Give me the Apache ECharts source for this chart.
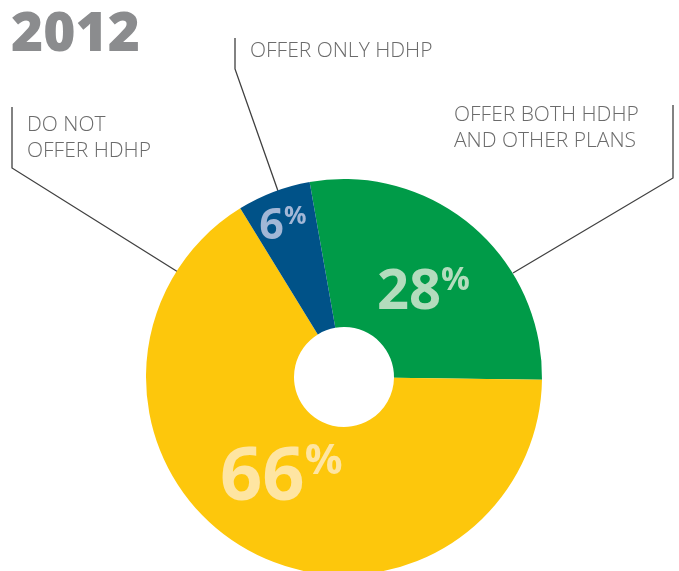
<!DOCTYPE html>
<html>
<head>
<meta charset="utf-8">
<script src="https://cdn.jsdelivr.net/npm/echarts@6/dist/echarts.min.js"></script>
<style>
html,body{margin:0;padding:0;background:#fff;}
#c{width:679px;height:571px;}
</style>
</head>
<body>
<div id="c"></div>
<script>
var title = '2012';
var categories = ['OFFER BOTH HDHP\nAND OTHER PLANS', 'DO NOT\nOFFER HDHP', 'OFFER ONLY HDHP'];
var values = [28, 66, 6];
var colors = ['#009b48', '#fdc70c', '#005288'];
var labelColors = ['#b3dcbd', '#fee5a2', '#a2b7d6'];
var numSizes = [56, 74, 43];
var labelOffsets = [[-3, 13], [0, -9], [-16, -32]];

var FONT = '"Open Sans", "Noto Sans", sans-serif';

var data = values.map(function (v, i) {
  return {
    value: v,
    name: categories[i],
    itemStyle: { color: colors[i] },
    label: {
      offset: labelOffsets[i],
      formatter: '{n|' + v + '}{p|%}',
      rich: {
        n: { fontSize: numSizes[i], fontWeight: 'bold', fontFamily: FONT, color: labelColors[i], lineHeight: numSizes[i] },
        p: { fontSize: Math.round(numSizes[i] * 0.57), fontWeight: 'bold', fontFamily: FONT, color: labelColors[i], verticalAlign: 'top', lineHeight: Math.round(numSizes[i] * 0.64) }
      }
    }
  };
});

var lineStyle = { stroke: '#404040', lineWidth: 1.3, fill: null };
var textStyle = function (t, align) {
  return { text: t, fontSize: 21, fontWeight: 300, fontFamily: FONT, fill: '#6b6b6b', align: align || 'left', verticalAlign: 'middle', lineHeight: 26 };
};

var chart = echarts.init(document.getElementById('c'), null, { renderer: 'canvas' });
chart.setOption({
  animation: false,
  backgroundColor: '#ffffff',
  graphic: [
    { type: 'text', x: 11, y: 35, style: { text: title, fontSize: 55, fontWeight: 800, fontFamily: FONT, fill: '#8b8c8e', verticalAlign: 'middle' } },
    { type: 'polyline', shape: { points: [[12, 107], [12, 168], [178, 272]] }, style: lineStyle },
    { type: 'polyline', shape: { points: [[235, 38], [235, 69], [278, 191]] }, style: lineStyle },
    { type: 'polyline', shape: { points: [[673, 105], [673, 178], [513, 273]] }, style: lineStyle },
    { type: 'text', x: 27, y: 138, style: textStyle(categories[1]) },
    { type: 'text', x: 250, y: 51, style: textStyle(categories[2]) },
    { type: 'text', x: 454, y: 128, style: textStyle(categories[0]) }
  ],
  series: [{
    type: 'pie',
    center: [344, 377],
    radius: [50, 198],
    startAngle: 100,
    clockwise: true,
    silent: true,
    label: { show: true, position: 'inside' },
    labelLine: { show: false },
    data: data
  }]
});
</script>
</body>
</html>
